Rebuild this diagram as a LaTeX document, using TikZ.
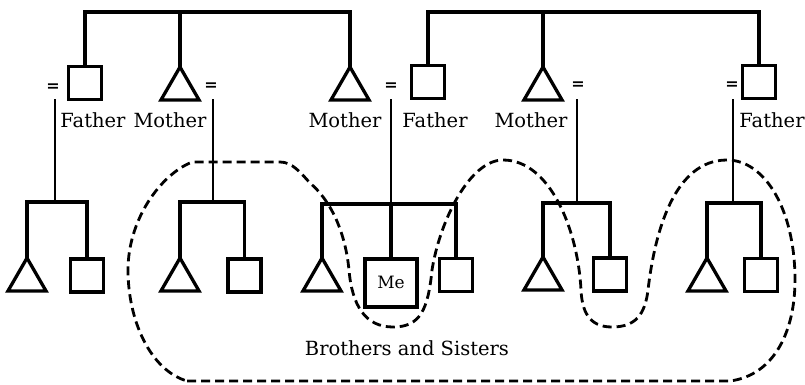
\documentclass[tikz,border=0pt]{standalone}
\usepackage{fontspec}
\setmainfont{DejaVu Serif}
\usetikzlibrary{shapes.geometric}
\tikzset{
  male/.style={draw=black, line width=3.3pt, minimum size=33pt, inner sep=0pt},
  female/.style={draw=black, line width=3.3pt, regular polygon, regular polygon sides=3,
    minimum size=44pt, inner sep=0pt, anchor=north},
  kin/.style={font=\fontsize{19.5}{23}\selectfont, anchor=base},
  wed/.style={font=\fontsize{16}{18}\selectfont\bfseries},
  line/.style={draw=black, line width=3.3pt},
  drop/.style={draw=black, line width=2.5pt},
  sibs/.style={draw=black, line width=2.8pt, line join=round, dash pattern=on 9pt off 5pt}
}
\begin{document}
\begin{tikzpicture}[x=1pt, y=-1pt, inner sep=0pt, outer sep=0pt]
\useasboundingbox (0,0) rectangle (805,384);
% grandparents' children
\node[male] (fatherA) at (85,83) {};
\node[female] (motherA) at (180,67) {};
\node[female] (motherB) at (350,67) {};
\node[male] (fatherB) at (428,82) {};
\node[female] (motherC) at (543,67) {};
\node[male] (fatherC) at (759,82) {};
\coordinate (topA) at (180,12);
\coordinate (topB) at (543,12);
\path[line] (fatherA.north) |- (topA) -| (motherB.north);
\path[line] (topA) -- (motherA.north);
\path[line] (fatherB.north) |- (topB) -| (fatherC.north);
\path[line] (topB) -- (motherC.north);
\node[kin] (lblA) at (93,127.5) {Father};
\node[kin] (lblB) at (170,127.5) {Mother};
\node[kin] (lblC) at (345,127.5) {Mother};
\node[kin] (lblD) at (435,127.5) {Father};
\node[kin] (lblE) at (531,127.5) {Mother};
\node[kin] (lblF) at (772,127.5) {Father};
% marriages
\node[wed] (eqA) at (53,88) {=};
\node[wed] (eqB) at (211,87) {=};
\node[wed] (eqC) at (391,87) {=};
\node[wed] (eqD) at (578,86) {=};
\node[wed] (eqE) at (732,86) {=};
\coordinate (dA) at (55,99);
\coordinate (dB) at (213,99);
\coordinate (dC) at (391,99);
\coordinate (dD) at (577,99);
\coordinate (dE) at (733,99);
\coordinate (jA) at (55,202);
\coordinate (jB) at (213,202);
\coordinate (jC) at (391,204);
\coordinate (jD) at (577,203);
\coordinate (jE) at (733,203);
\path[drop] (dA) -- (jA);
\path[drop] (dB) -- (jB);
\path[drop] (dC) -- (jC);
\path[drop] (dD) -- (jD);
\path[drop] (dE) -- (jE);
% children
\node[female] (kidA1) at (27,258) {};
\node[male] (kidA2) at (87,275.5) {};
\node[female] (kidB1) at (180,258) {};
\node[male] (kidB2) at (244.5,275.5) {};
\node[female] (kidC1) at (322,258) {};
\node[male, minimum width=52pt, minimum height=48pt, font=\fontsize{17}{20}\selectfont] (me) at (391,283) {\raisebox{2pt}{Me}};
\node[male] (kidC3) at (456,275) {};
\node[female] (kidD1) at (543,257) {};
\node[male] (kidD2) at (610,274.5) {};
\node[female] (kidE1) at (707,258) {};
\node[male] (kidE2) at (761,275) {};
\path[line] (kidA1.north) |- (jA) -| (kidA2.north);
\path[line] (kidB1.north) |- (jB) -| (kidB2.north);
\path[line] (kidC1.north) |- (jC) -| (kidC3.north);
\path[line] (jC) -- (me.north);
\path[line] (kidD1.north) |- (jD) -| (kidD2.north);
\path[line] (kidE1.north) |- (jE) -| (kidE2.north);
% brothers and sisters
\path[sibs] (187,381) -- (730,381)
  .. controls (775,375) and (795,330) .. (795,280)
  .. controls (795,210) and (765,160) .. (727,160)
  .. controls (675,160) and (655,230) .. (648,290)
  .. controls (645,315) and (635,327) .. (612,327)
  .. controls (588,327) and (582,310) .. (581,290)
  .. controls (578,230) and (550,160) .. (503,160)
  .. controls (470,160) and (440,220) .. (432,270)
  .. controls (428,310) and (420,327) .. (393,327)
  .. controls (365,327) and (352,305) .. (349,270)
  .. controls (345,230) and (330,200) .. (310,183)
  .. controls (300,172) and (292,162) .. (280,162)
  -- (192,162)
  .. controls (160,175) and (128,220) .. (128,270)
  .. controls (128,320) and (150,370) .. cycle;
\node[kin] (sibsLbl) at (407,355) {Brothers and Sisters};
\end{tikzpicture}
\end{document}
